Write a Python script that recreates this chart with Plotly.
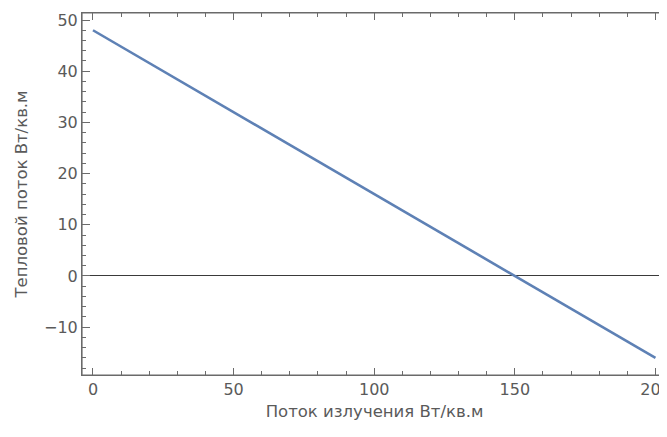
import plotly.graph_objects as go

# Data
radiation_flux = [0, 200]          # Поток излучения, Вт/кв.м
heat_flux = [48, -16]              # Тепловой поток, Вт/кв.м

x_tick_vals = [0, 50, 100, 150, 200]
y_tick_vals = [-10, 0, 10, 20, 30, 40, 50]

x_title = "Поток излучения Вт/кв.м"
y_title = "Тепловой поток Вт/кв.м"

FONT = "DejaVu Sans"
TEXT = "#5a5a5a"
FRAME = "#6b6b6b"

X_RANGE = [-3.9, 204.1]
Y_RANGE = [-19.34, 51.37]

fig = go.Figure()
fig.add_trace(go.Scatter(
    x=radiation_flux, y=heat_flux, mode="lines",
    line=dict(color="#5E81B5", width=2.6),
    showlegend=False, hoverinfo="skip",
))

axis_common = dict(
    showgrid=False,
    showline=True, linecolor=FRAME, linewidth=1,
    mirror="allticks",
    ticks="inside", tickcolor=FRAME, tickwidth=1,
    tickfont=dict(family=FONT, size=16, color=TEXT),
    automargin=False,
    ticklabeloverflow="allow",
)
x_minor = dict(ticks="inside", dtick=10, tick0=0, ticklen=4,
               tickcolor=FRAME, tickwidth=1, showgrid=False)
y_minor = dict(ticks="inside", dtick=2, tick0=0, ticklen=4,
               tickcolor=FRAME, tickwidth=1, showgrid=False)

# the page body adds an 8px margin, so the figure is 8px smaller than the window
fig.update_layout(
    width=659, height=429,
    margin=dict(l=74, r=0, t=5, b=62),
    paper_bgcolor="white", plot_bgcolor="white",
    xaxis=dict(
        **axis_common,
        range=X_RANGE, tickvals=x_tick_vals, ticklen=7,
        minor=x_minor, zeroline=False,
        title=dict(text=x_title, font=dict(family=FONT, size=16.5, color=TEXT), standoff=7),
    ),
    yaxis=dict(
        **axis_common,
        range=Y_RANGE, tickvals=y_tick_vals, ticklen=8,
        minor=y_minor,
        zeroline=True, zerolinecolor="#3a3a3a", zerolinewidth=1,
        title=dict(text=y_title, font=dict(family=FONT, size=16.5, color=TEXT), standoff=12),
    ),
)
# frame around the plot area
fig.add_shape(type="rect", xref="paper", yref="paper", x0=0, x1=1, y0=0, y1=1,
              line=dict(color=FRAME, width=1.2), layer="above")

fig.write_html("out.html")
